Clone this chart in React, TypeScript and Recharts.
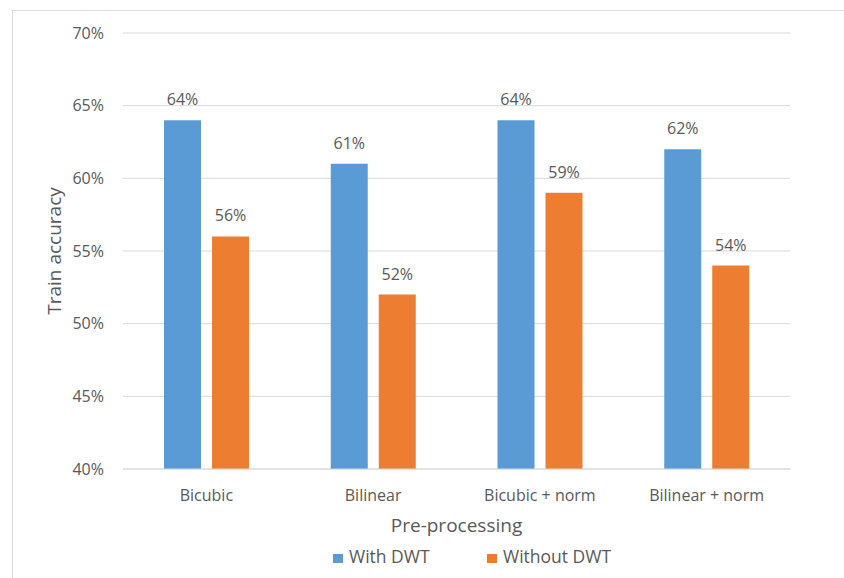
import { Bar, BarChart, CartesianGrid, Label, LabelList, Legend, XAxis, YAxis } from "recharts"

const methods = ["Bicubic", "Bilinear", "Bicubic + norm", "Bilinear + norm"]
const withDwt = [64, 61, 64, 62]
const withoutDwt = [56, 52, 59, 54]
const accuracyTicks = [40, 45, 50, 55, 60, 65, 70]

const SERIES = [
  { key: "withDwt", name: "With DWT", color: "#5b9bd5" },
  { key: "withoutDwt", name: "Without DWT", color: "#ed7d31" },
]

const data = methods.map((method, i) => ({
  method,
  withDwt: withDwt[i],
  withoutDwt: withoutDwt[i],
}))

const TEXT = "#595959"
const GRID = "#d9d9d9"
const FONT = '"Open Sans", sans-serif'

const pct = (v: number) => `${v}%`

function LegendRow() {
  return (
    <div style={{ fontSize: 17.5, lineHeight: "20px", color: TEXT, fontFamily: FONT, whiteSpace: "nowrap" }}>
      {SERIES.map((s, i) => (
        <span key={s.key} style={{ display: "inline-block", width: i === 0 ? 154 : undefined }}>
          <span
            style={{ display: "inline-block", width: 10, height: 9, background: s.color, marginRight: 6 }}
          />
          {s.name}
        </span>
      ))}
    </div>
  )
}

function renderYTitle(props: any) {
  const vb = props.viewBox
  const cx = vb.x + 54
  const cy = vb.y + vb.height / 2
  return (
    <text
      x={cx}
      y={cy}
      transform={`rotate(-90 ${cx} ${cy})`}
      textAnchor="middle"
      dominantBaseline="central"
      fill={TEXT}
      fontSize={19}
    >
      Train accuracy
    </text>
  )
}

export default function App() {
  return (
    <div
      style={{
        position: "absolute",
        left: 0,
        top: 0,
        width: 844,
        height: 578,
        overflow: "hidden",
        background: "#fff",
      }}
    >
      <div
        style={{
          position: "absolute",
          left: 12,
          top: 10,
          width: 900,
          height: 600,
          border: `1px solid ${GRID}`,
        }}
      />
      <BarChart
        width={844}
        height={578}
        data={data}
        margin={{ top: 33, right: 54, bottom: 0, left: 0 }}
        barSize={37}
        barGap={11}
        style={{ fontFamily: FONT }}
      >
        <CartesianGrid vertical={false} stroke={GRID} />
        <XAxis
          dataKey="method"
          height={109}
          tickLine={false}
          tickSize={0}
          tickMargin={21}
          axisLine={{ stroke: GRID }}
          tick={{ fill: TEXT, fontSize: 16 }}
          label={{ value: "Pre-processing", position: "insideTop", offset: 50, fill: TEXT, fontSize: 19 }}
        />
        <YAxis
          width={123}
          domain={[40, 70]}
          ticks={accuracyTicks}
          tickFormatter={pct}
          axisLine={false}
          tickLine={false}
          tickSize={0}
          tickMargin={19}
          tick={{ fill: TEXT, fontSize: 16 }}
          label={<Label content={renderYTitle} />}
        />
        <Legend
          layout="vertical"
          verticalAlign="middle"
          align="center"
          wrapperStyle={{ left: 333, top: 546, width: 320 }}
          content={<LegendRow />}
        />
        {SERIES.map((s) => (
          <Bar key={s.key} dataKey={s.key} name={s.name} fill={s.color} isAnimationActive={false}>
            <LabelList dataKey={s.key} position="top" offset={15} formatter={pct} fill={TEXT} fontSize={16} />
          </Bar>
        ))}
      </BarChart>
    </div>
  )
}
